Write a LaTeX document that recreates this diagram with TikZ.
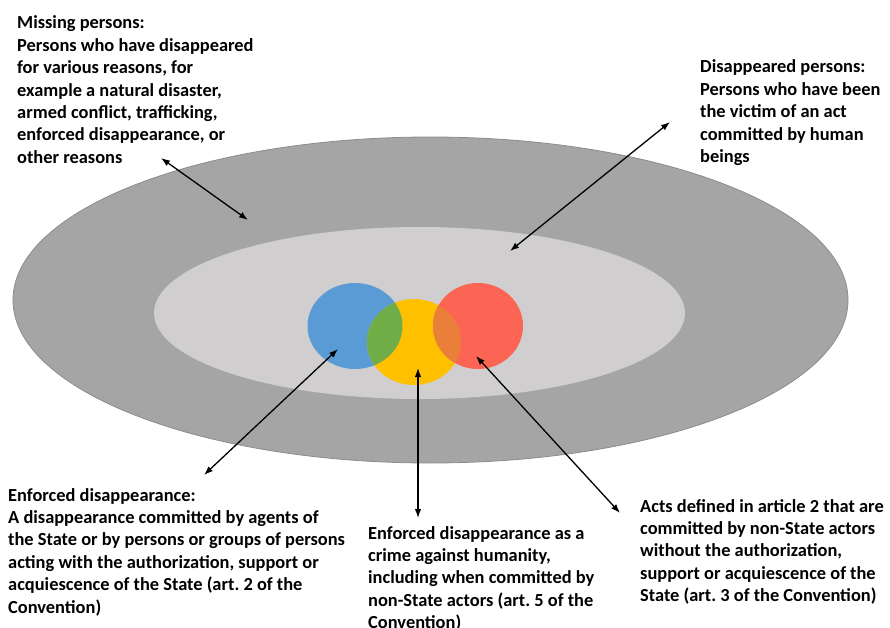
\documentclass[tikz,border=0pt]{standalone}
\usepackage{fontspec}
\setmainfont{Carlito}
\usetikzlibrary{arrows.meta}

\definecolor{outergray}{HTML}{A5A5A5}
\definecolor{rimgray}{HTML}{8C8C8C}
\definecolor{innergray}{HTML}{D0CECE}
\definecolor{bluecirc}{HTML}{5B9BD5}
\definecolor{yellowcirc}{HTML}{FFC000}
\definecolor{redcirc}{HTML}{FC6454}
\definecolor{greenover}{HTML}{70AD47}
\definecolor{orangeover}{HTML}{EA7F3A}

\begin{document}
\begin{tikzpicture}[x=1pt,y=-1pt,>={Latex[length=9pt,width=6.5pt]}]
    \useasboundingbox (0,0) rectangle (890,628);

    % the two rings
    \filldraw[fill=outergray, draw=rimgray, line width=0.8pt] (430.5,300) ellipse (417.5 and 163);
    \fill[innergray] (419.5,313) ellipse (265.5 and 86);

    % three circles and their overlaps
    \fill[bluecirc] (355,326) ellipse (47.5 and 43);
    \fill[yellowcirc] (414,342) ellipse (47 and 43);
    \fill[redcirc] (478,326) ellipse (45 and 43);
    \begin{scope}
        \clip (355,326) ellipse (47.5 and 43);
        \fill[greenover] (414,342) ellipse (47 and 43);
    \end{scope}
    \begin{scope}
        \clip (478,326) ellipse (45 and 43);
        \fill[orangeover] (414,342) ellipse (47 and 43);
    \end{scope}

    % labels, placed by the baseline of their last line
    \begin{scope}[every node/.style={anchor=base west, align=left, inner sep=0pt, font=\fontsize{18.4}{22.4}\selectfont\bfseries}]
        \node (missing) at (17,163.4) {Missing persons:\\Persons who have disappeared\\for various reasons, for\\example a natural disaster,\\armed conflict, trafficking,\\enforced disappearance, or\\other reasons};
        \node (disappeared) at (700,162.6) {Disappeared persons:\\Persons who have been\\the victim of an act\\committed by human\\beings};
        \node (enforced) at (8,613) {Enforced disappearance:\\A disappearance committed by agents of\\the State or by persons or groups of persons\\acting with the authorization, support or\\acquiescence of the State (art.\ 2 of the\\Convention)};
        \node (crime) at (368,628.6) {Enforced disappearance as a\\crime against humanity,\\including when committed by\\non-State actors (art.\ 5 of the\\Convention)};
        \node (nonstate) at (640,601.6) {Acts defined in article 2 that are\\committed by non-State actors\\without the authorization,\\support or acquiescence of the\\State (art.\ 3 of the Convention)};
    \end{scope}

    % arrow ends
    \coordinate (m1) at (161,158);
    \coordinate (m2) at (248,220);
    \coordinate (d1) at (670,122);
    \coordinate (d2) at (510,251);
    \coordinate (e1) at (338,349);
    \coordinate (e2) at (204,475);
    \coordinate (c1) at (418,368);
    \coordinate (c2) at (418,518);
    \coordinate (a1) at (476,356);
    \coordinate (a2) at (620,513);

    \begin{scope}[every edge/.style={draw, line width=1.3pt}]
        \path [<->] (m1) edge (m2);
        \path [<->] (d1) edge (d2);
        \path [<->] (e1) edge (e2);
        \path [<->] (c1) edge (c2);
        \path [<->] (a1) edge (a2);
    \end{scope}
\end{tikzpicture}
\end{document}
